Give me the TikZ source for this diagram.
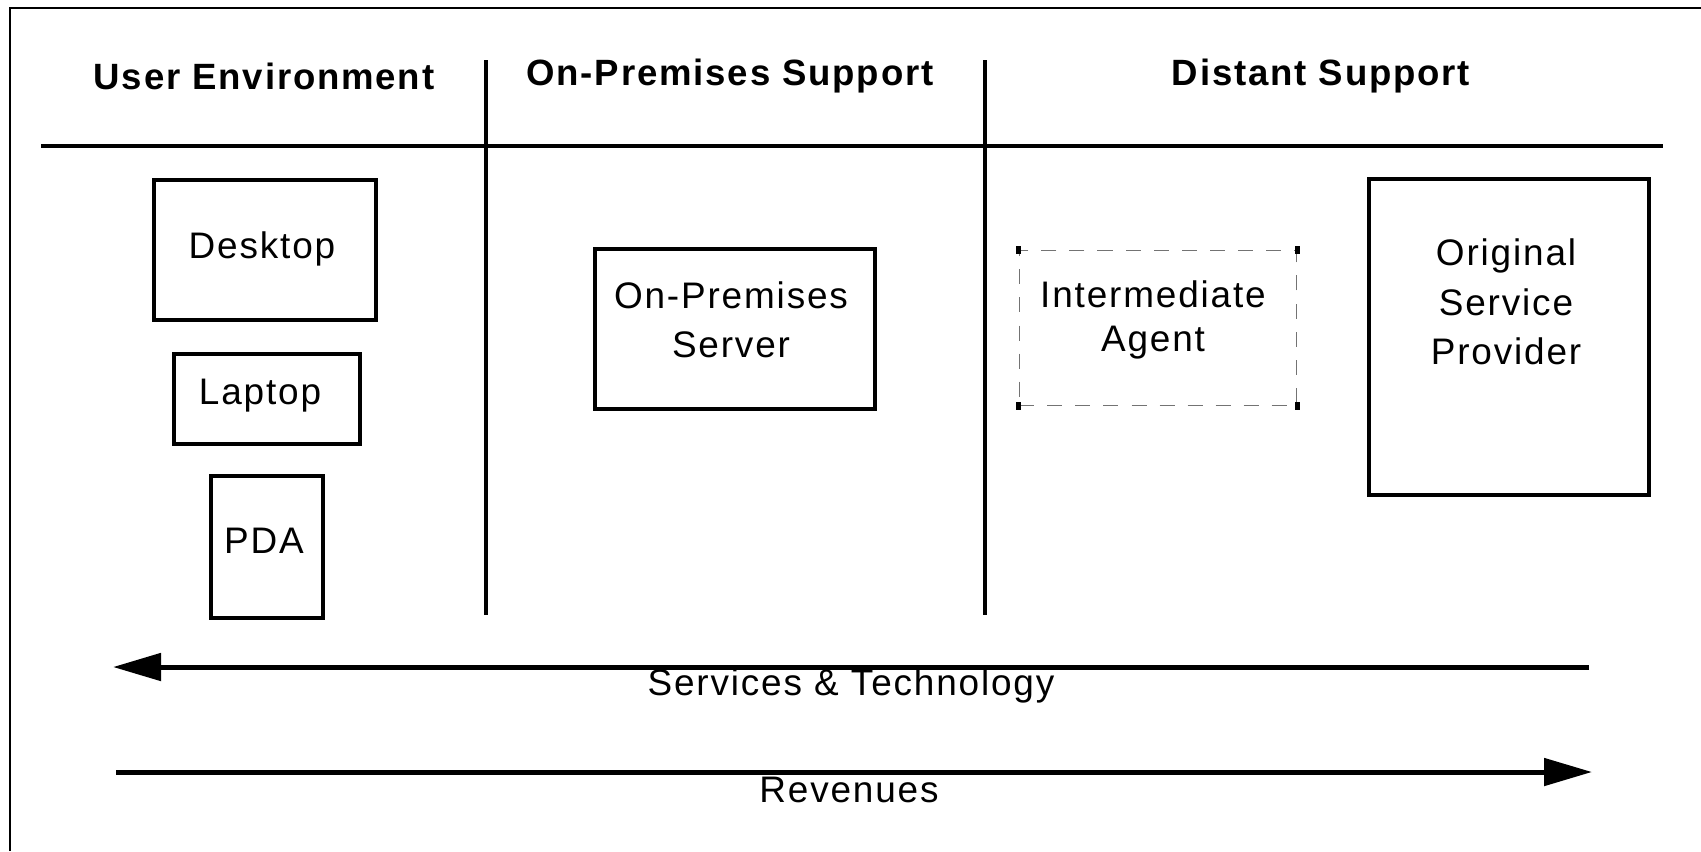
\documentclass[tikz,border=0pt]{standalone}
\usepackage{fontspec}
\setmainfont{Liberation Sans}[LetterSpace=5]
\usetikzlibrary{arrows.meta}
\tikzset{
  frame/.style={line width=0.02cm},
  rule/.style={line width=0.045cm},
  head/.style={font=\fontsize{10.4pt}{12pt}\selectfont\bfseries, inner sep=0},
  label/.style={font=\fontsize{10.5pt}{14pt}\selectfont, align=center, inner sep=0},
  box/.style 2 args={draw, line width=0.04cm, inner sep=0, minimum width=#1, minimum height=#2},
  agentbox/.style={draw=black!55, line width=0.015cm, dash pattern=on 0.15cm off 0.13cm, inner sep=0, minimum width=2.77cm, minimum height=1.55cm},
  flow/.style={line width=0.05cm, -{Triangle[length=0.48cm,width=0.27cm]}}
}
\begin{document}
\begin{tikzpicture}[x=0.01cm,y=-0.01cm]
			%%%%% START %%%%%
			\useasboundingbox (0,0) rectangle (1701,851);
			
			\draw[frame] (10,851) -- (10,8) -- (1701,8);
			
			% header and column rules
			\draw[rule] (41,146) -- (1663,146);
			\draw[rule] (486,60) -- (486,615);
			\draw[rule] (985,60) -- (985,615);
			
			\node[head] (userenv) at (264,76) {User Environment};
			\node[head] (onprem) at (730,76) {On-Premises Support};
			\node[head] (distant) at (1321,76) {Distant Support};
			
			% user environment
			\node[box={2.22cm}{1.40cm}] (desktop) at (265,250) {};
			\node[label] (desktoptxt) at (262,249) {Desktop};
			\node[box={1.85cm}{0.90cm}] (laptop) at (267,399) {};
			\node[label] (laptoptxt) at (260,396) {Laptop};
			\node[box={1.11cm}{1.41cm}] (pda) at (267,547) {};
			\node[label] (pdatxt) at (264,541) {PDA};
			
			% on-premises support
			\node[box={2.79cm}{1.59cm}] (server) at (735,329) {};
			\node[label] (servertxt) at (731,320) {On-Premises\\Server};
			
			% distant support
			\node[agentbox] (agent) at (1158,328) {};
			\foreach \c in {north west,north east,south west,south east}
				\fill (agent.\c) +(-2.5,-4) rectangle +(2.5,4);
			\node[label, font=\fontsize{10.5pt}{12.5pt}\selectfont] (agenttxt) at (1153,320) {Intermediate\\Agent};
			\node[box={2.80cm}{3.15cm}] (provider) at (1509,337) {};
			\node[label] (providertxt) at (1506,302) {Original\\Service\\Provider};
			
			% flows
			\coordinate (svcfrom) at (1589,667);
			\coordinate (svcto) at (113,667);
			\draw[flow] (svcfrom) -- (svcto);
			\node[label] (svctxt) at (851,686) {Services \& Technology};
			
			\coordinate (revfrom) at (116,772);
			\coordinate (revto) at (1592,772);
			\draw[flow] (revfrom) -- (revto);
			\node[label] (revtxt) at (849,790) {Revenues};
			
			%%%%% END %%%%%
\end{tikzpicture}
\end{document}
